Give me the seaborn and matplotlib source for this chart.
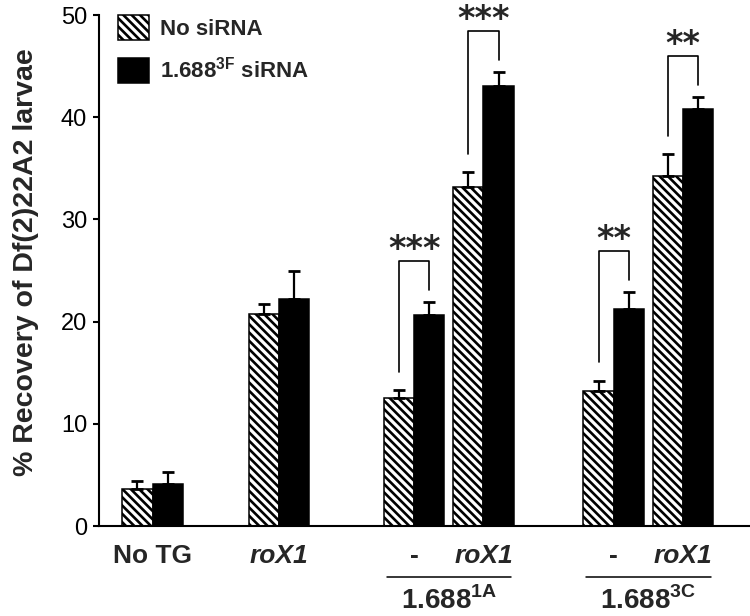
import numpy as np
import pandas as pd
import matplotlib
matplotlib.use('Agg')
import matplotlib.pyplot as plt
import matplotlib.transforms as mtransforms
import seaborn as sns

# values (mean, SEM)
conditions = ["No TG", "roX1", "-", "roX1", "-", "roX1"]
treatments = ["No siRNA", "1.688$^{\\mathbf{3F}}$ siRNA"]
no_sirna = [3.6, 20.7, 12.5, 33.2, 13.2, 34.2]
no_sirna_err = [0.8, 1.0, 0.8, 1.4, 1.0, 2.2]
sirna = [4.1, 22.2, 20.6, 43.1, 21.2, 40.8]
sirna_err = [1.2, 2.8, 1.3, 1.3, 1.7, 1.2]
groups = ["1.688$^{\\mathbf{1A}}$", "1.688$^{\\mathbf{3C}}$"]
sig_marks = {2: "***", 3: "***", 4: "**", 5: "**"}

# layout: uneven spacing of the bar pairs
xpos = [0, 1.83, 3.78, 4.78, 6.66, 7.66]

df = pd.DataFrame({
    "x": xpos * 2,
    "value": no_sirna + sirna,
    "treatment": [treatments[0]] * len(no_sirna) + [treatments[1]] * len(sirna),
})

sns.set_style('ticks')
plt.rcParams['font.family'] = ['Liberation Sans', 'DejaVu Sans']
plt.rcParams['mathtext.fontset'] = 'custom'
plt.rcParams['mathtext.rm'] = 'Liberation Sans'
plt.rcParams['mathtext.bf'] = 'Liberation Sans:bold'
plt.rcParams['hatch.linewidth'] = 1.9
plt.rcParams['hatch.color'] = 'black'

fig = plt.figure(figsize=(7.5, 6.16), dpi=100)
ax = fig.add_axes([0.132, 0.1461, 0.868, 0.8295])

sns.barplot(data=df, x="x", y="value", hue="treatment", hue_order=treatments,
            native_scale=True, width=0.87, gap=0, palette=["white", "black"],
            edgecolor="black", linewidth=1.1, errorbar=None, legend=False, ax=ax)

hatched, solid = ax.containers[0], ax.containers[1]
for p in hatched:
    p.set_hatch('\\\\\\\\')

# upper-only error bars
centers = []
for cont, err in zip([hatched, solid], [no_sirna_err, sirna_err]):
    cx = [p.get_x() + p.get_width() / 2 for p in cont]
    top = [p.get_height() for p in cont]
    centers.append(cx)
    ax.errorbar(cx, top, yerr=[np.zeros(len(err)), err], fmt='none', ecolor='black',
                elinewidth=1.6, capsize=4.3, capthick=2.0)

# significance brackets
for i, mark in sig_marks.items():
    x0, x1 = centers[0][i], centers[1][i]
    c0 = no_sirna[i] + no_sirna_err[i]
    c1 = sirna[i] + sirna_err[i]
    top = c1 + 4.0
    ax.plot([x0, x0, x1, x1], [c0 + 1.8, top, top, c1 + 1.2], color='black', lw=1.2,
            clip_on=False)
    ax.annotate(mark, xy=((x0 + x1) / 2, top + 2.1), xytext=(0, -14),
                textcoords='offset points', ha='center', va='baseline', fontsize=24,
                family='DejaVu Sans', fontweight='bold', annotation_clip=False)

ax.set_xlim(-0.773, 8.63)
ax.set_ylim(0, 50)
ax.set_yticks(range(0, 51, 10))
ax.set_xticks(xpos)
ax.set_xticklabels(conditions, fontsize=19, fontweight='bold')
for lbl in ax.get_xticklabels():
    if 'roX1' in lbl.get_text():
        lbl.set_fontstyle('italic')
ax.tick_params(axis='x', length=0, pad=13)
ax.tick_params(axis='y', labelsize=17, length=4.5, width=1.5, pad=4, colors='black')
ax.set_xlabel('')
ax.set_ylabel('% Recovery of Df(2)22A2 larvae', fontsize=20.5, fontweight='bold')
ax.yaxis.set_label_coords(-0.092, 0.517)
sns.despine(ax=ax)
for s in ['left', 'bottom']:
    ax.spines[s].set_linewidth(1.5)
    ax.spines[s].set_color('black')

# group underlines and labels
trans = mtransforms.blended_transform_factory(ax.transData, ax.transAxes)
for j, g in enumerate(groups):
    mid = (xpos[2 + 2 * j] + xpos[3 + 2 * j]) / 2
    ax.plot([mid - 0.9, mid + 0.9], [-0.10, -0.10], transform=trans, color='black',
            lw=1.1, clip_on=False)
    ax.text(mid, -0.174, g, transform=trans, ha='center', va='bottom',
            fontsize=20, fontweight='bold')

ax.legend(handles=[hatched, solid], labels=treatments, loc='upper left',
          bbox_to_anchor=(0.029, 1.0), frameon=False, borderpad=0, borderaxespad=0,
          handlelength=1.4, handleheight=1.35, handletextpad=0.5, labelspacing=0.77,
          prop=dict(weight='bold', size=16))

fig.savefig('out.png', dpi=100)
